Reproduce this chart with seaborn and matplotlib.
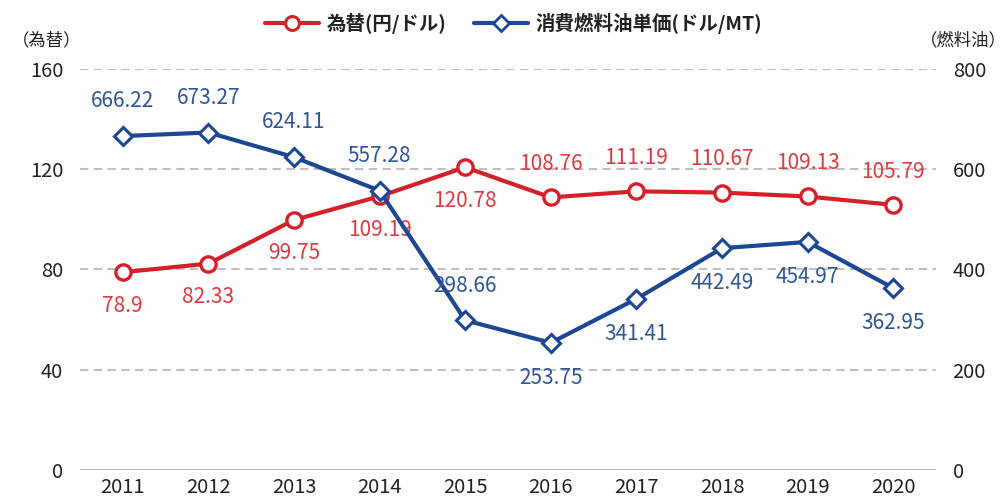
import seaborn as sns
import matplotlib.pyplot as plt
import pandas as pd
from matplotlib.lines import Line2D

years = ["2011", "2012", "2013", "2014", "2015", "2016", "2017", "2018", "2019", "2020"]
fx_rate = [78.9, 82.33, 99.75, 109.19, 120.78, 108.76, 111.19, 110.67, 109.13, 105.79]
fuel_price = [666.22, 673.27, 624.11, 557.28, 298.66, 253.75, 341.41, 442.49, 454.97, 362.95]
# label above (+1) or below (-1) the point
fx_pos = [-1, -1, -1, -1, -1, 1, 1, 1, 1, 1]
fuel_pos = [1, 1, 1, 1, 1, -1, -1, -1, -1, -1]

sns.set_style("white")
plt.rcParams['font.family'] = ['Noto Sans CJK JP', 'DejaVu Sans']

red = "#D42029"
blue = "#1B4793"
red_txt = "#DC3A42"
blue_txt = "#2E5597"

df = pd.DataFrame({"year": years, "fx": fx_rate, "fuel": fuel_price})
x = list(range(len(years)))

fig = plt.figure(figsize=(10.07, 5.01), dpi=100)
ax = fig.add_axes([0.0794, 0.0619, 0.8501, 0.8004])
ax2 = ax.twinx()

sns.lineplot(x=x, y=df["fx"], ax=ax, color=red, linewidth=3.0, marker="o",
             markersize=11, markerfacecolor="white", markeredgecolor=red,
             markeredgewidth=2.4, zorder=3)
sns.lineplot(x=x, y=df["fuel"], ax=ax2, color=blue, linewidth=3.0, marker="D",
             markersize=9, markerfacecolor="white", markeredgecolor=blue,
             markeredgewidth=2.2, zorder=3)

ax.set_xlim(-0.5, len(years) - 0.5)
ax.set_ylim(0, 160)
ax2.set_ylim(0, 800)
ax.set_yticks([0, 40, 80, 120, 160])
ax2.set_yticks([0, 200, 400, 600, 800])
ax.set_xticks(x)
ax.set_xticklabels(years)
ax.set_xlabel("")
ax.set_ylabel("")
ax2.set_ylabel("")

for a in (ax, ax2):
    for s in a.spines.values():
        s.set_visible(False)
    a.tick_params(length=0, labelsize=14.5, colors="#222222")
ax.tick_params(axis="x", pad=5)
ax.tick_params(axis="y", pad=12)
ax2.tick_params(axis="y", pad=12)

for yv in [40, 80, 120, 160]:
    ax.axhline(yv, color="#BFBFBF", linestyle=(0, (4, 2.6)), linewidth=1.5, zorder=0)
ax.axhline(0, color="#A0A0A0", linewidth=1.8, zorder=0)

for i in x:
    ax.annotate(f"{fx_rate[i]:g}", (i, fx_rate[i]), xytext=(0, 24 * fx_pos[i]),
                textcoords="offset points", ha="center", va="center",
                color=red_txt, fontsize=15)
    ax2.annotate(f"{fuel_price[i]:.2f}", (i, fuel_price[i]), xytext=(0, 25 * fuel_pos[i]),
                 textcoords="offset points", ha="center", va="center",
                 color=blue_txt, fontsize=15)

fig.text(0.046, 0.92, "（為替）", ha="center", va="center", fontsize=12.5, color="#222222")
fig.text(0.957, 0.92, "（燃料油）", ha="center", va="center", fontsize=12.5, color="#222222")

handles = [
    Line2D([], [], color=red, linewidth=3.0, marker="o", markersize=10,
           markerfacecolor="white", markeredgecolor=red, markeredgewidth=2.2),
    Line2D([], [], color=blue, linewidth=3.0, marker="D", markersize=8,
           markerfacecolor="white", markeredgecolor=blue, markeredgewidth=2.0),
]
leg = fig.legend(handles, ["為替(円/ドル)", "消費燃料油単価(ドル/MT)"], loc="center",
                 bbox_to_anchor=(0.51, 0.953), ncol=2, frameon=False,
                 fontsize=14, handlelength=2.8, columnspacing=1.4, handletextpad=0.4)
for t in leg.get_texts():
    t.set_fontweight("bold")
    t.set_color("#222222")

plt.savefig("out.png", dpi=100)
